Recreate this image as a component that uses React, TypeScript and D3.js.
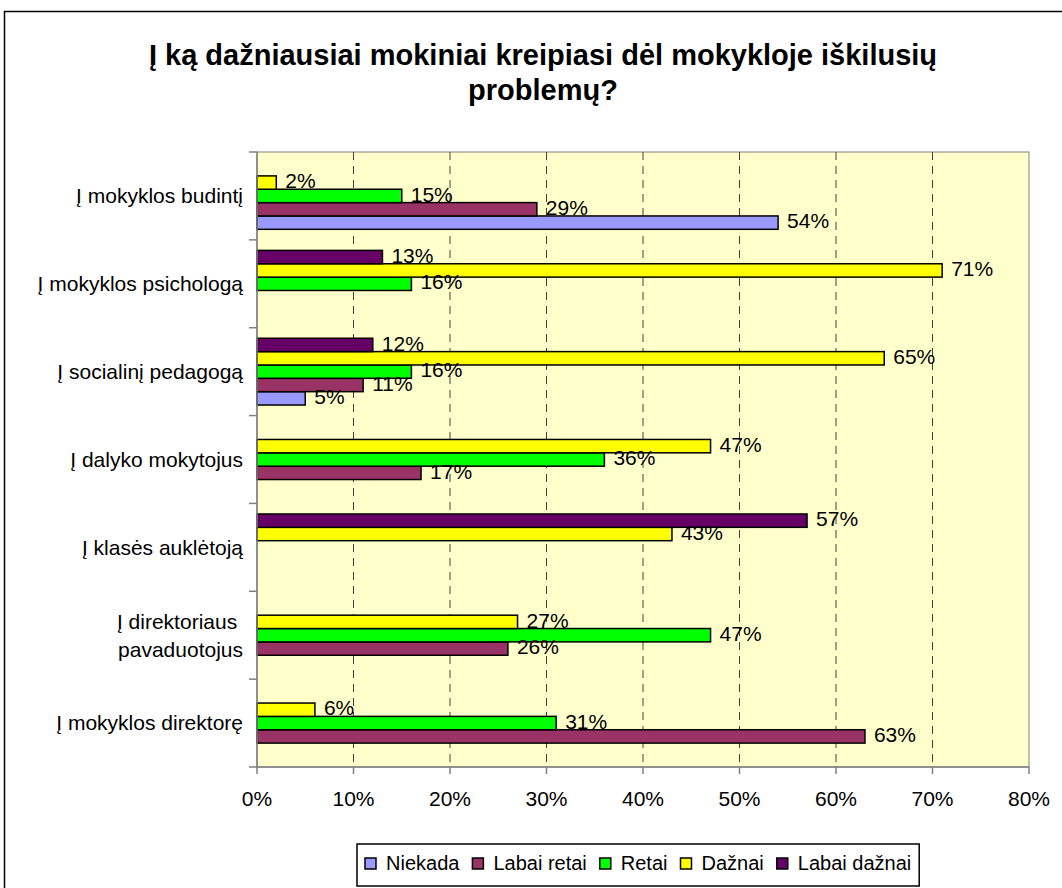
import * as d3 from 'd3';
import React, { useEffect, useRef } from 'react';

const categories = [
  'Į mokyklos budintį',
  'Į mokyklos psichologą',
  'Į socialinį pedagogą',
  'Į dalyko mokytojus',
  'Į klasės auklėtoją',
  'Į direktoriaus pavaduotojus',
  'Į mokyklos direktorę',
];
const categoryLines = [
  ['Į mokyklos budintį'],
  ['Į mokyklos psichologą'],
  ['Į socialinį pedagogą'],
  ['Į dalyko mokytojus'],
  ['Į klasės auklėtoją'],
  ['Į direktoriaus\u00a0', 'pavaduotojus'],
  ['Į mokyklos direktorę'],
];

const seriesNames = ['Niekada', 'Labai retai', 'Retai', 'Dažnai', 'Labai dažnai'];
const seriesColors = ['#9999FF', '#993366', '#00FF00', '#FFFF00', '#660066'];

// values in %, per category (0 = not shown)
const niekada = [54, 0, 5, 0, 0, 0, 0];
const labaiRetai = [29, 0, 11, 17, 0, 26, 63];
const retai = [15, 16, 16, 36, 0, 47, 31];
const daznai = [2, 71, 65, 47, 43, 27, 6];
const labaiDaznai = [0, 13, 12, 0, 57, 0, 0];
const seriesValues = [niekada, labaiRetai, retai, daznai, labaiDaznai];

const xTicks = [0, 10, 20, 30, 40, 50, 60, 70, 80];

const titleLines = ['Į ką dažniausiai mokiniai kreipiasi dėl mokykloje iškilusių', 'problemų?'];

export default function App() {
  const svgRef = useRef(null);
  const width = 1062;
  const height = 888;

  useEffect(() => {
    const svg = d3.select(svgRef.current);
    svg.selectAll('*').remove();
    const font = 'Arial, "Liberation Sans", sans-serif';

    const margin = { top: 152, left: 257, right: 1029, bottom: 767 };

    // outer chart border
    svg.append('rect')
      .attr('x', 4.5).attr('y', 11.5)
      .attr('width', 1080).attr('height', 900)
      .attr('fill', 'white').attr('stroke', '#000').attr('stroke-width', 1.5);

    // title
    svg.append('g').selectAll('text')
      .data(titleLines)
      .enter().append('text')
      .attr('x', 543)
      .attr('y', (d, i) => 65 + i * 35)
      .attr('text-anchor', 'middle')
      .style('font-family', font)
      .style('font-weight', 'bold')
      .style('font-size', '29px')
      .text((d) => d);

    const x = d3.scaleLinear().domain([0, 80]).range([margin.left, margin.right]);
    const y = d3.scaleBand().domain(categories).range([margin.top, margin.bottom]).padding(0);
    const order = ['Labai dažnai', 'Dažnai', 'Retai', 'Labai retai', 'Niekada'];
    const ySub = d3.scaleBand().domain(order).range([0, y.bandwidth()]).paddingInner(0).paddingOuter(0.79);

    // plot area
    svg.append('rect')
      .attr('x', margin.left).attr('y', margin.top)
      .attr('width', margin.right - margin.left).attr('height', margin.bottom - margin.top)
      .attr('fill', '#FFFFCC').attr('stroke', '#808080').attr('stroke-width', 1);

    // gridlines
    svg.append('g').selectAll('line')
      .data(xTicks.slice(1, -1))
      .enter().append('line')
      .attr('x1', (d) => x(d)).attr('x2', (d) => x(d))
      .attr('y1', margin.top).attr('y2', margin.bottom)
      .attr('stroke', '#404040').attr('stroke-width', 1)
      .attr('stroke-dasharray', '8,6');

    // bars
    const barData = [];
    seriesNames.forEach((s, si) => {
      categories.forEach((c, ci) => {
        const v = seriesValues[si][ci];
        if (v > 0) barData.push({ series: s, color: seriesColors[si], cat: c, value: v });
      });
    });

    svg.append('g').selectAll('rect')
      .data(barData)
      .enter().append('rect')
      .attr('x', x(0))
      .attr('y', (d) => y(d.cat) + ySub(d.series))
      .attr('width', (d) => x(d.value) - x(0))
      .attr('height', ySub.bandwidth())
      .attr('fill', (d) => d.color)
      .attr('stroke', '#000').attr('stroke-width', 1.5);

    svg.append('g').selectAll('text')
      .data(barData)
      .enter().append('text')
      .attr('x', (d) => x(d.value) + 9)
      .attr('y', (d) => y(d.cat) + ySub(d.series) + ySub.bandwidth() / 2)
      .attr('dy', '0.27em')
      .style('font-family', font)
      .style('font-size', '21px')
      .text((d) => `${d.value}%`);

    // y axis
    svg.append('line')
      .attr('x1', margin.left).attr('x2', margin.left)
      .attr('y1', margin.top).attr('y2', margin.bottom)
      .attr('stroke', '#808080').attr('stroke-width', 1.5);
    const yTickPos = categories.map((c) => y(c)).concat([margin.bottom]);
    svg.append('g').selectAll('line')
      .data(yTickPos)
      .enter().append('line')
      .attr('x1', margin.left - 8).attr('x2', margin.left)
      .attr('y1', (d) => d).attr('y2', (d) => d)
      .attr('stroke', '#808080').attr('stroke-width', 1.5);

    const catG = svg.append('g').selectAll('text')
      .data(categories)
      .enter().append('text')
      .attr('text-anchor', 'end')
      .style('font-family', font)
      .style('font-size', '21px');
    catG.each(function (c, i) {
      const lines = categoryLines[i];
      const cy = y(c) + y.bandwidth() / 2;
      const lh = 28;
      d3.select(this).selectAll('tspan')
        .data(lines)
        .enter().append('tspan')
        .attr('x', margin.left - 14)
        .attr('y', (d, j) => cy + (j - (lines.length - 1) / 2) * lh)
        .attr('dy', '0.35em')
        .text((d) => d);
    });

    // x axis
    svg.append('line')
      .attr('x1', margin.left).attr('x2', margin.right)
      .attr('y1', margin.bottom).attr('y2', margin.bottom)
      .attr('stroke', '#808080').attr('stroke-width', 1.5);
    svg.append('g').selectAll('line')
      .data(xTicks)
      .enter().append('line')
      .attr('x1', (d) => x(d)).attr('x2', (d) => x(d))
      .attr('y1', margin.bottom).attr('y2', margin.bottom + 7)
      .attr('stroke', '#808080').attr('stroke-width', 1.5);
    svg.append('g').selectAll('text')
      .data(xTicks)
      .enter().append('text')
      .attr('x', (d) => x(d))
      .attr('y', margin.bottom + 39)
      .attr('text-anchor', 'middle')
      .style('font-family', font)
      .style('font-size', '21px')
      .text((d) => `${d}%`);

    // legend
    const legend = svg.append('g');
    const legendBox = legend.append('rect')
      .attr('fill', 'white').attr('stroke', '#000').attr('stroke-width', 1.5);
    const legendBase = 870;
    let lx = 0;
    const items = legend.append('g');
    seriesNames.forEach((s, i) => {
      items.append('rect')
        .attr('x', lx).attr('y', legendBase - 12)
        .attr('width', 11).attr('height', 11)
        .attr('fill', seriesColors[i]).attr('stroke', '#000').attr('stroke-width', 1.5);
      const t = items.append('text')
        .attr('x', lx + 21).attr('y', legendBase)
        .style('font-family', font)
        .style('font-size', '20px')
        .text(s);
      lx += 21 + t.node().getComputedTextLength() + 13;
    });
    const totalW = lx - 13;
    const lx0 = 365;
    items.attr('transform', `translate(${lx0},0)`);
    legendBox
      .attr('x', lx0 - 8).attr('y', 844)
      .attr('width', totalW + 16).attr('height', 42);
  }, []);

  return (
    <svg ref={svgRef} width={width} height={height} style={{ position: 'absolute', left: 0, top: 0 }} />
  );
}
